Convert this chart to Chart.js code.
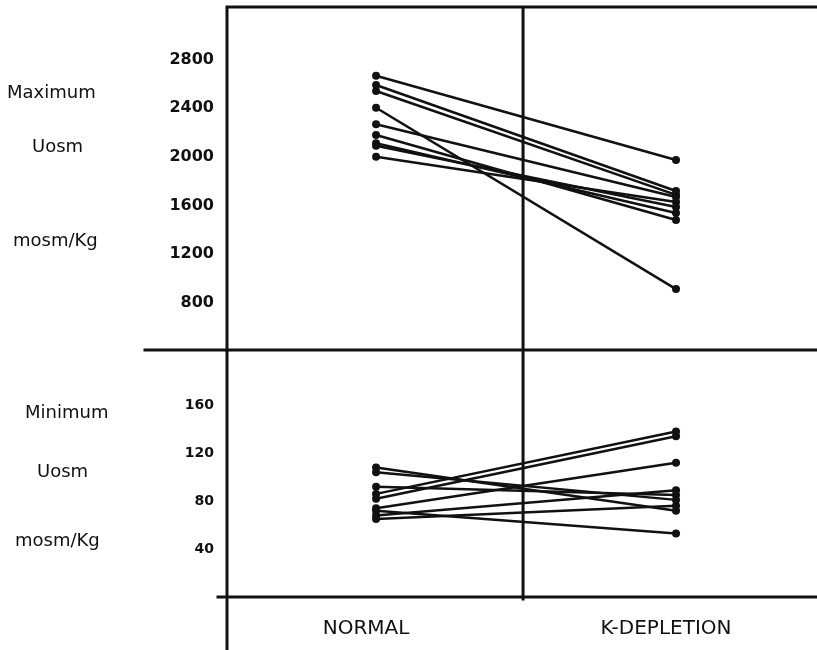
<!DOCTYPE html>
<html>
<head>
<meta charset="utf-8">
<script src="https://cdn.jsdelivr.net/npm/chart.js@4.4.1/dist/chart.umd.min.js"></script>
<style>
  body { margin: 0; background: #fff; }
  #wrap { position: relative; width: 817px; height: 650px; overflow: hidden; }
  canvas { position: absolute; left: 0; }
  #top-chart { top: 0; }
  #bottom-chart { top: 350px; }
  .side-label {
    position: absolute;
    font-family: "DejaVu Sans", sans-serif;
    font-size: 18px;
    color: #111;
    line-height: 20px;
    white-space: nowrap;
    transform: translateY(-50%);
  }
</style>
</head>
<body>
<div id="wrap">
  <canvas id="top-chart" width="817" height="352"></canvas>
  <canvas id="bottom-chart" width="817" height="300"></canvas>

  <div class="side-label" style="left:7px; top:92px;">Maximum</div>
  <div class="side-label" style="left:32px; top:146px;">Uosm</div>
  <div class="side-label" style="left:13px; top:240px;">mosm/Kg</div>

  <div class="side-label" style="left:25px; top:412px;">Minimum</div>
  <div class="side-label" style="left:37px; top:471px;">Uosm</div>
  <div class="side-label" style="left:15px; top:540px;">mosm/Kg</div>
</div>

<script>
const GROUPS = ["NORMAL", "K-DEPLETION"];

// maximum urine osmolality, mosm/Kg (one entry per subject)
const MAX_NORMAL = [2667, 2591, 2541, 2404, 2268, 2180, 2112, 2092, 2001];
const MAX_KDEP = [1974, 1719, 1687, 913, 1670, 1481, 1539, 1588, 1629];

// minimum urine osmolality, mosm/Kg
const MIN_NORMAL = [108, 104, 92, 86, 82, 74, 72, 68, 65];
const MIN_KDEP = [72, 81, 85, 138, 134, 112, 53, 89, 76];

const MAX_TICKS = [800, 1200, 1600, 2000, 2400, 2800];
const MIN_TICKS = [40, 80, 120, 160];

const INK = "#111111";
const FONT = "DejaVu Sans";

const buildDatasets = (before, after) =>
  before.map((value, i) => ({
    data: [
      { x: 0, y: value },
      { x: 1, y: after[i] },
    ],
    borderColor: INK,
    backgroundColor: INK,
    borderWidth: 2.5,
    pointRadius: 4,
    pointBorderWidth: 0,
    clip: false,
  }));

// frame lines of the figure, drawn from the chart area and the x scale
const framePlugin = (isTop) => ({
  id: "frame",
  beforeDatasetsDraw(chart) {
    const { ctx, chartArea } = chart;
    const x = chart.scales.x;
    const divider = x.getPixelForValue(0.49);
    ctx.save();
    ctx.strokeStyle = INK;
    ctx.lineWidth = 3;
    ctx.lineCap = "square";
    ctx.beginPath();
    if (isTop) {
      ctx.moveTo(chartArea.left, chart.height);
      ctx.lineTo(chartArea.left, chartArea.top);
      ctx.lineTo(chart.width, chartArea.top);
      ctx.moveTo(145, chartArea.bottom);
      ctx.lineTo(chart.width, chartArea.bottom);
      ctx.moveTo(divider, chartArea.top);
      ctx.lineTo(divider, chartArea.bottom);
    } else {
      ctx.moveTo(chartArea.left, 0);
      ctx.lineTo(chartArea.left, chart.height);
      ctx.moveTo(chartArea.left - 9, chartArea.bottom);
      ctx.lineTo(chart.width, chartArea.bottom);
      ctx.moveTo(divider, 0);
      ctx.lineTo(divider, chartArea.bottom + 2);
    }
    ctx.stroke();
    ctx.restore();
  },
});

const makeOptions = (yMin, yMax, yTicks, tickSize, showX) => ({
  responsive: false,
  animation: false,
  layout: {
    autoPadding: false,
    padding: { top: showX ? 0 : 7, bottom: showX ? 0 : 2, left: 0, right: 0 },
  },
  plugins: { legend: { display: false }, tooltip: { enabled: false } },
  scales: {
    x: {
      type: "linear",
      min: -0.497,
      max: 1.47,
      display: showX,
      grid: { display: false, drawTicks: false },
      border: { display: false },
      afterBuildTicks: (axis) => {
        axis.ticks = [{ value: 0 }, { value: 1 }];
      },
      afterFit: (axis) => {
        axis.height = showX ? 53 : 0;
        axis.paddingLeft = 0;
        axis.paddingRight = 0;
      },
      ticks: {
        color: INK,
        font: { family: FONT, size: 20 },
        padding: 20,
        labelOffset: -10,
        maxRotation: 0,
        callback: (value) => GROUPS[value],
      },
    },
    y: {
      min: yMin,
      max: yMax,
      grid: { display: false, drawTicks: false },
      border: { display: false },
      afterBuildTicks: (axis) => {
        axis.ticks = yTicks.map((v) => ({ value: v }));
      },
      afterFit: (axis) => {
        axis.width = 227;
        axis.paddingTop = 0;
        axis.paddingBottom = 0;
      },
      ticks: {
        color: INK,
        font: { family: FONT, size: tickSize, weight: "bold" },
        padding: 13,
        callback: (value) => String(value),
      },
    },
  },
});

new Chart(document.getElementById("top-chart"), {
  type: "line",
  data: { datasets: buildDatasets(MAX_NORMAL, MAX_KDEP) },
  options: makeOptions(412, 3232, MAX_TICKS, 16, false),
  plugins: [framePlugin(true)],
});

new Chart(document.getElementById("bottom-chart"), {
  type: "line",
  data: { datasets: buildDatasets(MIN_NORMAL, MIN_KDEP) },
  options: makeOptions(0, 206, MIN_TICKS, 14, true),
  plugins: [framePlugin(false)],
});
</script>
</body>
</html>
